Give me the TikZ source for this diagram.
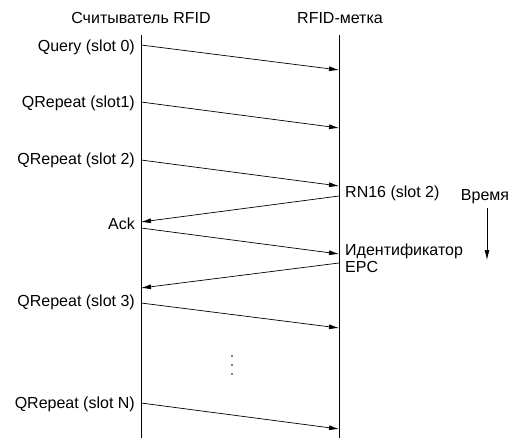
\documentclass[tikz,border=0pt]{standalone}
\usepackage{fontspec}
\setmainfont{Liberation Sans}
\usetikzlibrary{arrows.meta}
\begin{document}
\begin{tikzpicture}[x=1pt,y=-1pt,
  lbl/.style={font=\fontsize{16}{17}\selectfont, inner sep=0pt},
  msg/.style={-{Latex[length=10pt,width=5pt]}, line width=0.7pt},
  life/.style={line width=0.8pt}]
\useasboundingbox[fill=white] (0,0) rectangle (519,445);
% headers
\node[lbl] (hR) at (141,18) {Считыватель RFID};
\node[lbl] (hT) at (340,18) {RFID-метка};
% lifelines
\coordinate (r0) at (141,35); \coordinate (r1) at (141,438);
\coordinate (t0) at (339,35); \coordinate (t1) at (339,438);
\draw[life] (r0) -- (r1);
\draw[life] (t0) -- (t1);
% message points
\coordinate (a1) at (141,45);  \coordinate (b1) at (339,70);
\coordinate (a2) at (141,102); \coordinate (b2) at (339,128);
\coordinate (a3) at (141,160); \coordinate (b3) at (339,186);
\coordinate (b4) at (339,196); \coordinate (a4) at (141,222);
\coordinate (a5) at (141,228); \coordinate (b5) at (339,254);
\coordinate (b6) at (339,263); \coordinate (a6) at (141,288);
\coordinate (a7) at (141,303); \coordinate (b7) at (339,328);
\coordinate (a8) at (141,403); \coordinate (b8) at (339,429);
\draw[msg] (a1) -- (b1);
\draw[msg] (a2) -- (b2);
\draw[msg] (a3) -- (b3);
\draw[msg] (b4) -- (a4);
\draw[msg] (a5) -- (b5);
\draw[msg] (b6) -- (a6);
\draw[msg] (a7) -- (b7);
\draw[msg] (a8) -- (b8);
% labels
\node[lbl, anchor=east] (l1) at (135,47) {Query (slot 0)};
\node[lbl, anchor=east] (l2) at (135,103) {QRepeat (slot1)};
\node[lbl, anchor=east] (l3) at (135,160) {QRepeat (slot 2)};
\node[lbl, anchor=west] (l4) at (345,193) {RN16 (slot 2)};
\node[lbl, anchor=east] (l5) at (135,224) {Ack};
\node[lbl, anchor=west, align=left] (l6) at (345,258) {Идентификатор\\EPC};
\node[lbl, anchor=east] (l7) at (135,302) {QRepeat (slot 3)};
\node[lbl, anchor=east] (l8) at (135,404) {QRepeat (slot N)};
% dots
\foreach \yy in {356,365,374} \fill (232,\yy) circle (0.9);
% time
\node[lbl] (time) at (485,197) {Время};
\coordinate (ts) at (487,208); \coordinate (te) at (487,260);
\draw[msg] (ts) -- (te);
\end{tikzpicture}
\end{document}
